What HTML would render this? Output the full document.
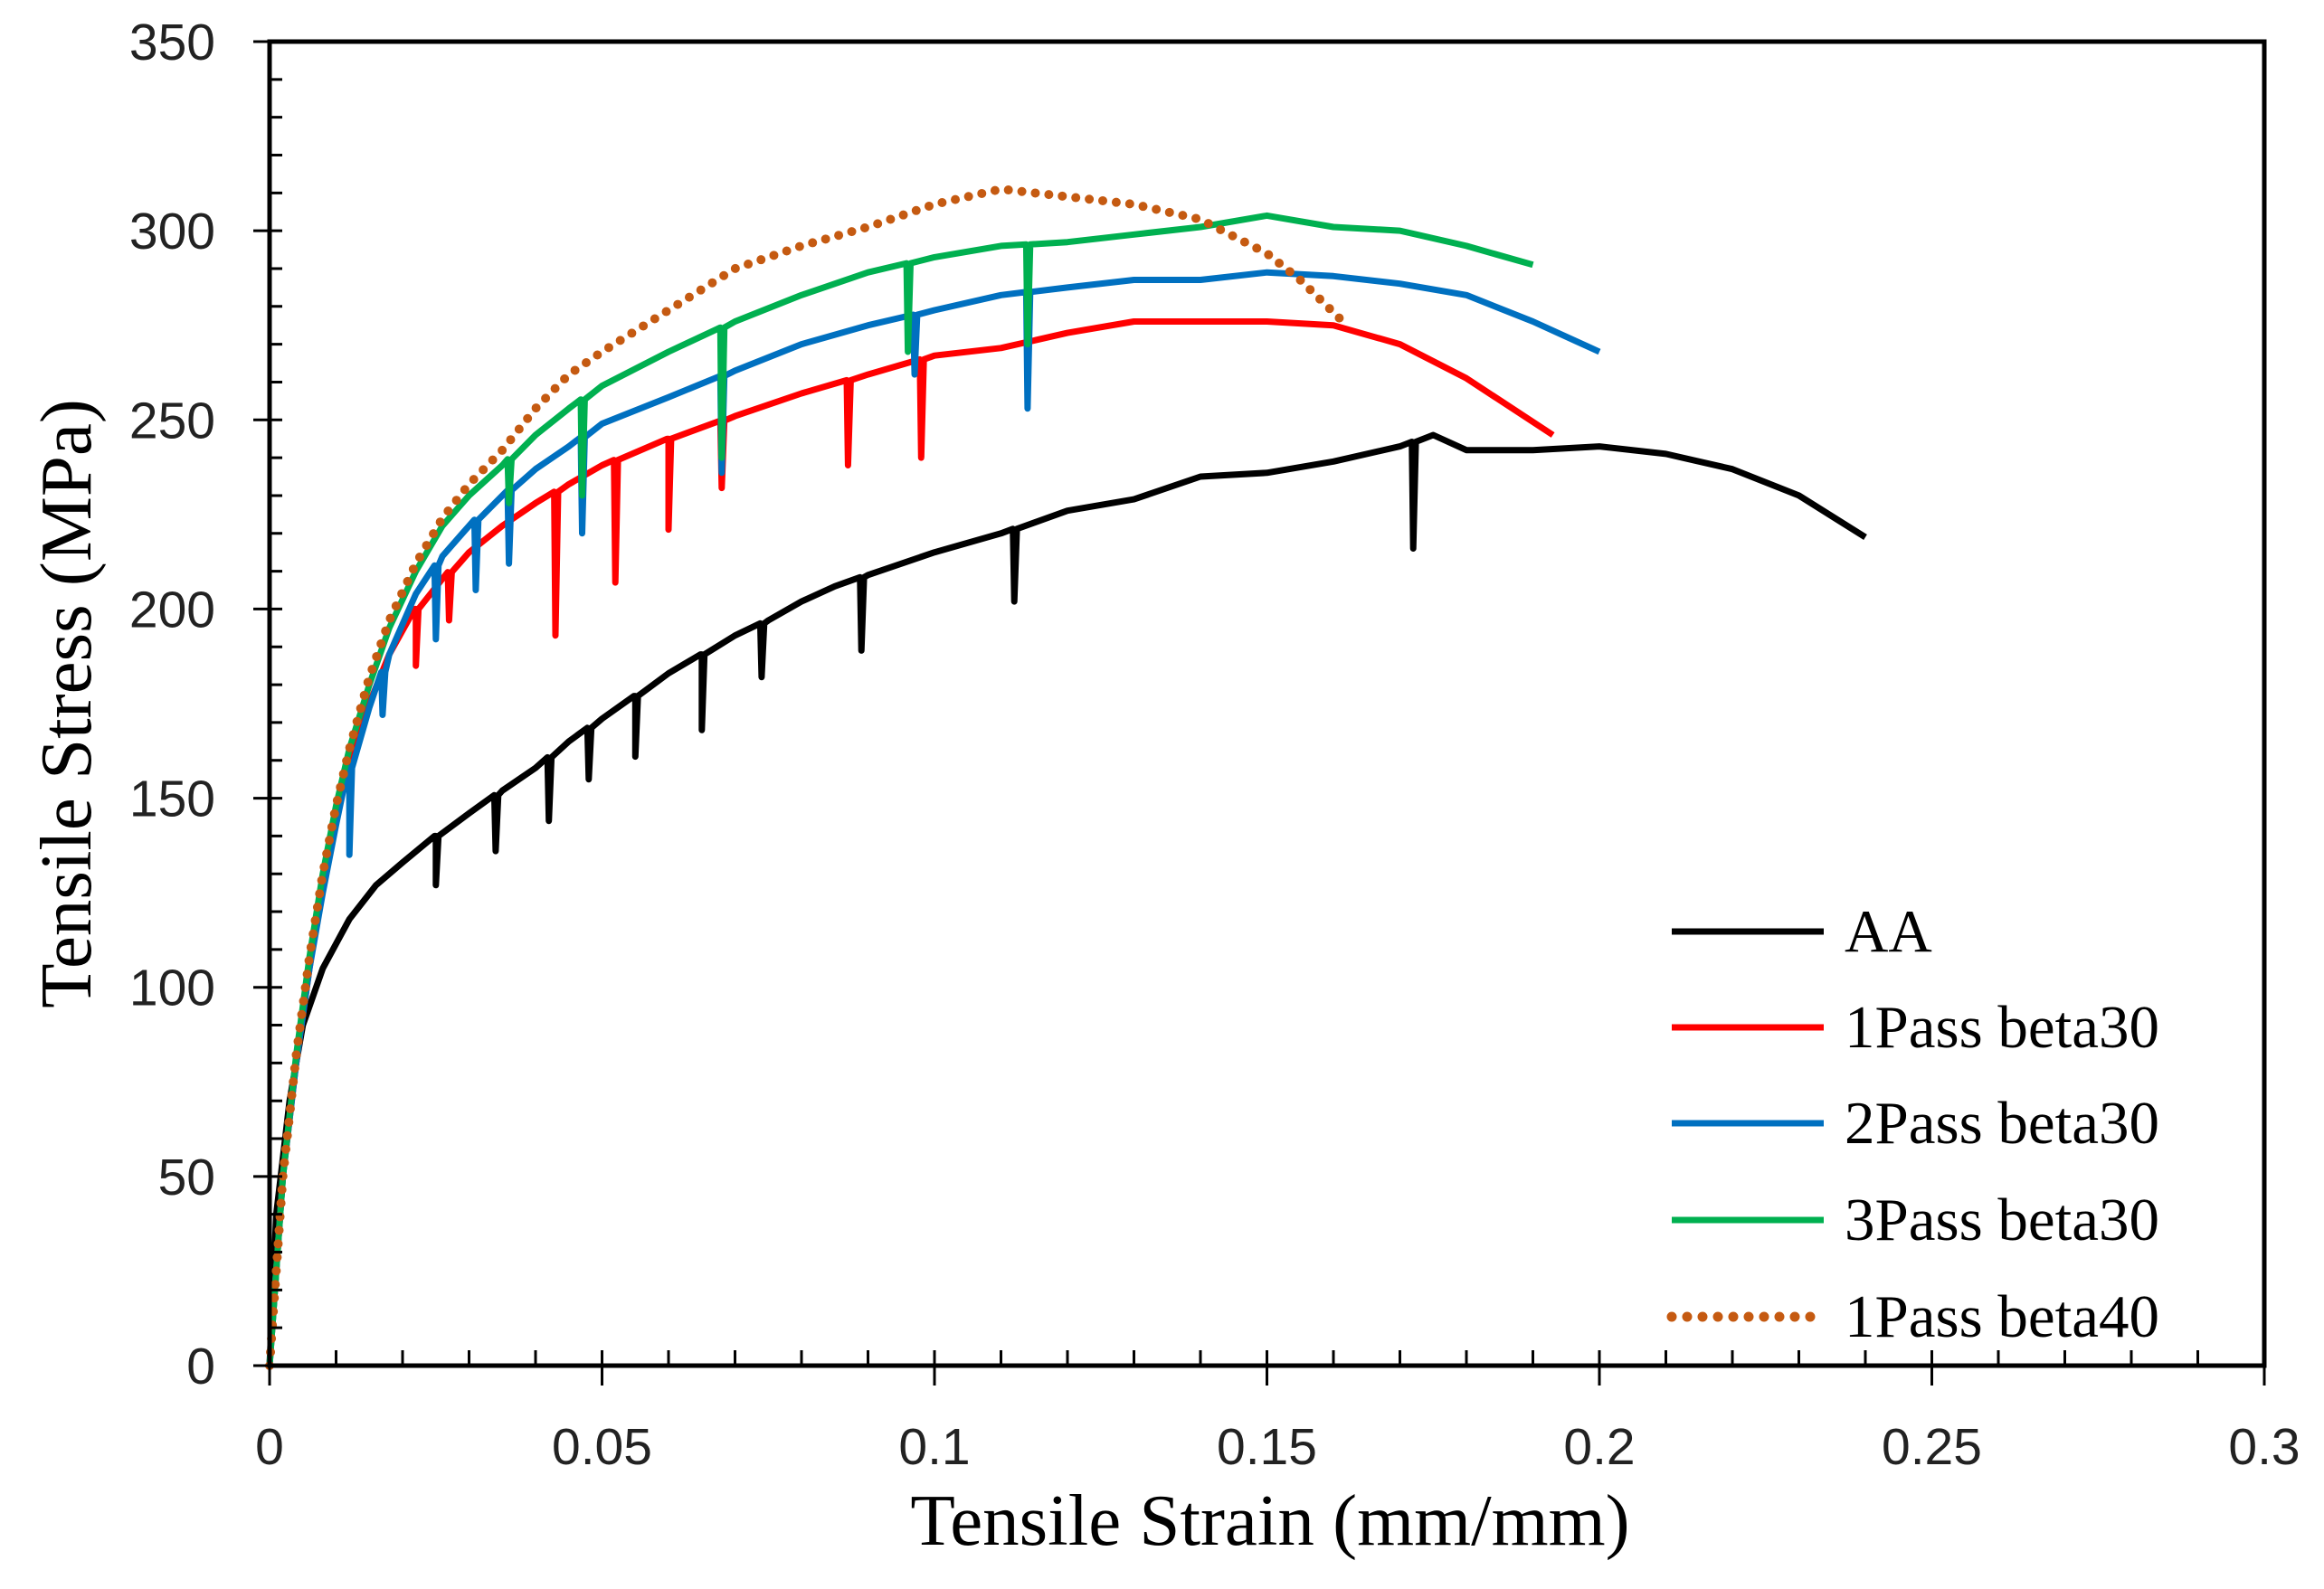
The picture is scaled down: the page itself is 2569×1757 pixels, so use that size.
<!DOCTYPE html>
<html><head><meta charset="utf-8"><style>
html,body{margin:0;padding:0;background:#fff;}
svg{display:block;}
</style></head><body>
<svg id="chart" width="2569" height="1757" viewBox="0 0 2569 1757" xmlns="http://www.w3.org/2000/svg">
<g id="series"></g>
<g id="axes"></g>
<g id="legend"></g>
</svg>
<script>
const xTicks=[0,0.05,0.1,0.15,0.2,0.25,0.3];
const xTickLabels=["0","0.05","0.1","0.15","0.2","0.25","0.3"];
const yTicks=[0,50,100,150,200,250,300,350];
const yTickLabels=["0","50","100","150","200","250","300","350"];
const seriesNames=["AA","1Pass beta30","2Pass beta30","3Pass beta30","1Pass beta40"];
const aaStrain=[0,0.001,0.003,0.005,0.008,0.012,0.016,0.02,0.025,0.03,0.035,0.04,0.045,0.05,0.055,0.06,0.065,0.07,0.075,0.08,0.085,0.09,0.1,0.11,0.12,0.13,0.14,0.15,0.16,0.17,0.175,0.18,0.19,0.2,0.21,0.22,0.23,0.24];
const aaStress=[0,40,70,90,105,118,127,133,140,146,152,158,165,171,177,183,188,193,197,202,206,209,215,220,226,229,235,236,239,243,246,242,242,243,241,237,230,219];
const aaDropStrain=[0.025,0.034,0.042,0.048,0.055,0.065,0.074,0.089,0.112,0.172];
const aaDropStress=[127,136,144,155,161,168,182,189,202,216];
const p1Strain=[0,0.002,0.004,0.006,0.008,0.01,0.012,0.015,0.018,0.022,0.026,0.03,0.035,0.04,0.045,0.05,0.06,0.07,0.08,0.09,0.1,0.11,0.12,0.13,0.14,0.15,0.16,0.17,0.18,0.193];
const p1Stress=[0,50,80,105,128,145,160,175,188,200,208,215,222,228,233,238,245,251,257,262,267,269,273,276,276,276,275,270,261,246];
const p1DropStrain=[0.022,0.027,0.043,0.052,0.06,0.068,0.087,0.098];
const p1DropStress=[185,197,193,207,221,232,238,240];
const p2Strain=[0,0.002,0.004,0.006,0.008,0.01,0.012,0.015,0.018,0.022,0.026,0.03,0.035,0.04,0.045,0.05,0.06,0.07,0.08,0.09,0.1,0.11,0.12,0.13,0.14,0.15,0.16,0.17,0.18,0.19,0.2];
const p2Stress=[0,50,80,105,125,143,158,174,188,204,214,222,230,237,243,249,256,263,270,275,279,283,285,287,287,289,288,286,283,276,268];
const p2DropStrain=[0.012,0.017,0.025,0.031,0.036,0.047,0.068,0.097,0.114];
const p2DropStress=[135,172,192,205,212,220,236,262,253];
const p3Strain=[0,0.002,0.004,0.006,0.008,0.01,0.012,0.015,0.018,0.022,0.026,0.03,0.035,0.04,0.045,0.05,0.06,0.07,0.08,0.09,0.1,0.11,0.12,0.13,0.14,0.15,0.16,0.17,0.18,0.19];
const p3Stress=[0,50,82,108,130,148,163,180,195,210,222,230,238,246,253,259,268,276,283,289,293,296,297,299,301,304,301,300,296,291];
const p3DropStrain=[0.036,0.047,0.068,0.096,0.114];
const p3DropStress=[228,230,240,268,270];
const b40Strain=[0,0.002,0.004,0.006,0.008,0.01,0.012,0.015,0.018,0.022,0.026,0.03,0.035,0.04,0.045,0.05,0.06,0.07,0.08,0.09,0.1,0.11,0.12,0.13,0.14,0.15,0.155,0.162];
const b40Stress=[0,50,82,108,130,148,163,182,197,212,224,233,242,253,262,268,279,290,296,301,307,311,309,307,303,294,287,275];

const L=298,R=2503,T=46,B=1510;
const xs=v=>L+(v/0.3)*(R-L);
const ys=v=>B-(v/350)*(B-T);
const NS="http://www.w3.org/2000/svg";
function mk(tag,parent){const e=document.createElementNS(NS,tag);parent.appendChild(e);return e;}

function buildPoints(sx,sy,dx,dy){
  const pts=sx.map((x,i)=>[x,sy[i]]);
  const interp=x=>{for(let i=1;i<sx.length;i++){if(sx[i]>=x){const t=(x-sx[i-1])/(sx[i]-sx[i-1]);return sy[i-1]+t*(sy[i]-sy[i-1]);}}return sy[sy.length-1];};
  dx.forEach((x,i)=>{const b=interp(x);pts.push([x-0.0002,b],[x,dy[i]],[x+0.0004,b]);});
  pts.sort((a,b)=>a[0]-b[0]);
  return pts.map(p=>xs(p[0]).toFixed(1)+","+ys(p[1]).toFixed(1)).join(" ");
}
const sg=document.getElementById("series");
const defs=[
 [aaStrain,aaStress,aaDropStrain,aaDropStress,"#000000","series-aa",false],
 [p1Strain,p1Stress,p1DropStrain,p1DropStress,"#ff0000","series-1pass-beta30",false],
 [p2Strain,p2Stress,p2DropStrain,p2DropStress,"#0070c0","series-2pass-beta30",false],
 [p3Strain,p3Stress,p3DropStrain,p3DropStress,"#00b050","series-3pass-beta30",false],
 [b40Strain,b40Stress,[],[],"#c55a11","series-1pass-beta40",true]];
defs.forEach(d=>{
  const pl=mk("polyline",sg);
  
  
  pl.setAttribute("points",buildPoints(d[0],d[1],d[2],d[3]));
  pl.setAttribute("fill","none");pl.setAttribute("stroke",d[4]);
  pl.setAttribute("stroke-linejoin","round");
  if(d[6]){pl.setAttribute("stroke-width","10");pl.setAttribute("stroke-dasharray","0 15");pl.setAttribute("stroke-linecap","round");}
  else pl.setAttribute("stroke-width","7");
});

const ag=document.getElementById("axes");
const frame=mk("rect",ag);


frame.setAttribute("x",L);frame.setAttribute("y",T);frame.setAttribute("width",R-L);frame.setAttribute("height",B-T);
frame.setAttribute("fill","none");frame.setAttribute("stroke","#000");frame.setAttribute("stroke-width","5");
let tp="";
for(let i=1;i<30;i++){const x=xs(i*0.01);tp+=`M${x},${B}V${B-17}`;}
xTicks.forEach(v=>{tp+=`M${xs(v)},${B}V${B+22}`;});
for(let i=1;i<35;i++){const y=ys(i*10);tp+=`M${L},${y}H${L+14}`;}
yTicks.forEach(v=>{tp+=`M${L-18},${ys(v)}H${L}`;});
const ticks=mk("path",ag);


ticks.setAttribute("d",tp);ticks.setAttribute("stroke","#000");ticks.setAttribute("stroke-width","3");
xTicks.forEach((v,i)=>{const t=mk("text",ag);
 
 
 t.setAttribute("x",xs(v));t.setAttribute("y",1619);t.setAttribute("text-anchor","middle");
 t.setAttribute("font-family","Liberation Sans, sans-serif");t.setAttribute("font-size","57");t.setAttribute("fill","#222");
 t.textContent=xTickLabels[i];});
yTicks.forEach((v,i)=>{const t=mk("text",ag);
 
 
 t.setAttribute("x",238);t.setAttribute("y",ys(v)+20);t.setAttribute("text-anchor","end");
 t.setAttribute("font-family","Liberation Sans, sans-serif");t.setAttribute("font-size","57");t.setAttribute("fill","#222");
 t.textContent=yTickLabels[i];});
const xt=mk("text",ag);


xt.setAttribute("x",1404);xt.setAttribute("y",1708);xt.setAttribute("text-anchor","middle");
xt.setAttribute("font-family","Liberation Serif, serif");xt.setAttribute("font-size","81");xt.textContent="Tensile Strain (mm/mm)";
const yt=mk("text",ag);


yt.setAttribute("transform","translate(100,778) rotate(-90)");yt.setAttribute("text-anchor","middle");
yt.setAttribute("font-family","Liberation Serif, serif");yt.setAttribute("font-size","81");yt.textContent="Tensile Stress (MPa)";

const lg=document.getElementById("legend");
const rowsY=[1030,1136,1242,1349,1456];
defs.forEach((d,i)=>{
 const g=mk("g",lg);
 
 
 const ln=mk("line",g);
 ln.setAttribute("x1",1848);ln.setAttribute("x2",2016);ln.setAttribute("y1",rowsY[i]);ln.setAttribute("y2",rowsY[i]);
 ln.setAttribute("stroke",d[4]);
 if(d[6]){ln.setAttribute("stroke-width","11");ln.setAttribute("stroke-dasharray","0 17");ln.setAttribute("stroke-linecap","round");}
 else ln.setAttribute("stroke-width","7");
 const t=mk("text",g);
 t.setAttribute("x",2039);t.setAttribute("y",rowsY[i]+22);
 t.setAttribute("font-family","Liberation Serif, serif");t.setAttribute("font-size","67");
 t.textContent=seriesNames[i];
});
</script>
</body></html>
